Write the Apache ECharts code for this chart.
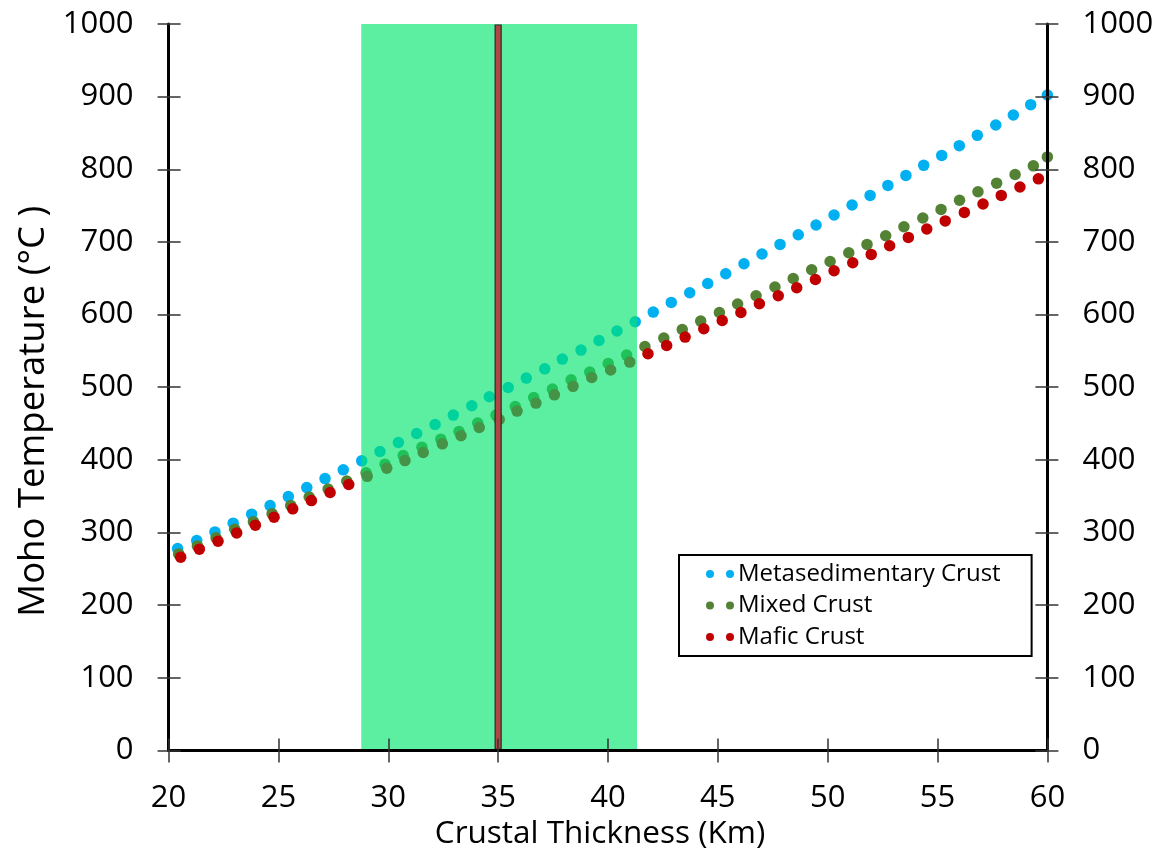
<!DOCTYPE html>
<html>
<head>
<meta charset="utf-8">
<script src="https://cdn.jsdelivr.net/npm/echarts@6/dist/echarts.min.js"></script>
<style>
  html, body { margin: 0; padding: 0; background: #ffffff; }
  #chart { width: 1166px; height: 859px; }
</style>
</head>
<body>
<div id="chart"></div>
<script>
// Moho temperature vs. crustal thickness for three crustal compositions

const xTicks = { min: 20, max: 60, step: 5 };
const yTicks = { min: 0, max: 1000, step: 100 };

const metaX = [20.41,21.28,22.11,22.94,23.78,24.62,25.45,26.29,27.12,27.95,28.79,29.62,30.46,31.29,32.13,32.96,33.80,34.60,35.46,36.28,37.12,37.92,38.77,39.59,40.41,41.24,42.06,42.88,43.72,44.54,45.36,46.19,47.01,47.83,48.66,49.47,50.29,51.11,51.93,52.74,53.56,54.37,55.19,55.99,56.81,57.65,58.45,59.24,60.00];
const metaT = [277.8,288.8,300.8,312.8,325.2,337.0,349.4,361.8,374.2,386.2,398.6,411.4,423.8,436.2,448.6,461.6,474.4,486.8,499.6,512.5,525.3,538.7,551.1,564.3,577.3,590.1,603.4,616.7,630.0,642.8,656.2,670.0,683.3,696.6,709.9,723.3,737.1,750.8,764.0,777.8,791.6,805.4,819.1,832.5,846.7,861.0,874.8,889.0,902.3];

const mixedX = [20.46,21.31,22.16,23.01,23.86,24.71,25.56,26.40,27.26,28.11,28.99,29.85,30.68,31.53,32.39,33.22,34.07,34.90,35.78,36.62,37.47,38.32,39.17,40.01,40.85,41.68,42.54,43.38,44.22,45.07,45.90,46.74,47.60,48.43,49.27,50.11,50.96,51.79,52.64,53.47,54.33,55.16,56.00,56.84,57.69,58.53,59.36,60.00];
const mixedT = [270.5,281.5,292.6,304.3,314.9,325.9,337.3,348.8,359.8,370.7,382.1,394.0,405.9,417.5,428.5,439.0,450.6,461.6,473.4,485.8,497.4,510.2,520.8,532.6,544.2,556.1,567.6,579.5,591.0,602.9,614.5,625.9,637.9,649.7,661.7,673.1,685.1,696.6,708.5,720.9,732.9,744.8,757.4,769.1,780.9,792.8,804.7,817.0];

const maficX = [20.55,21.40,22.25,23.10,23.95,24.80,25.65,26.50,27.35,28.20,29.04,29.93,30.76,31.59,32.46,33.31,34.14,35.05,35.86,36.72,37.56,38.41,39.26,40.12,40.99,41.82,42.67,43.51,44.36,45.20,46.05,46.89,47.75,48.59,49.44,50.29,51.14,51.98,52.82,53.67,54.51,55.35,56.22,57.07,57.90,58.75,59.59];
const maficT = [266.0,277.0,288.0,299.4,310.1,321.1,332.5,343.9,355.0,366.0,377.3,388.5,399.0,410.1,422.0,433.1,444.5,455.5,467.1,478.1,489.5,501.2,513.4,523.6,534.6,546.0,557.4,569.0,580.4,591.9,602.9,614.9,625.9,636.9,648.3,660.3,671.3,682.8,694.8,706.2,717.8,728.9,740.6,752.2,764.0,775.6,786.8];

const seriesNames = ['Metasedimentary Crust', 'Mixed Crust', 'Mafic Crust'];
const seriesColors = ['#00B0F0', '#548235', '#C00000'];

// Shaded thickness range and the reference thickness
const bandRange = [28.77, 41.32];
const refThickness = [35];

const FONT = 'Open Sans';

function pairs(xs, ys) {
  return xs.map((x, i) => [x, ys[i]]);
}

// plain integer tick labels (no thousands separator)
const plain = (v) => String(v);

// two dots side by side, like the marker pair in the legend
const twoDots = 'path://M0,4a4,4 0 1,0 8,0a4,4 0 1,0 -8,0z M20,4a4,4 0 1,0 8,0a4,4 0 1,0 -8,0z';

const axisBlack = { lineStyle: { color: '#000', width: 3 } };
const tickStyle = { color: '#333', width: 1.5 };

function xAxisBase(extra) {
  return Object.assign({
    type: 'value', min: xTicks.min, max: xTicks.max, interval: xTicks.step,
    splitLine: { show: false }, z: 10
  }, extra);
}
function yAxisBase(extra) {
  return Object.assign({
    type: 'value', min: yTicks.min, max: yTicks.max, interval: yTicks.step,
    splitLine: { show: false }, z: 10
  }, extra);
}

const chart = echarts.init(document.getElementById('chart'), null, { renderer: 'canvas' });

const option = {
  backgroundColor: '#ffffff',
  animation: false,
  textStyle: { fontFamily: FONT },
  grid: { left: 168.6, right: 118.6, top: 24, bottom: 108.6, containLabel: false },
  xAxis: [
    xAxisBase({
      position: 'bottom',
      name: 'Crustal Thickness (Km)', nameLocation: 'middle', nameGap: 68,
      nameTextStyle: { fontFamily: FONT, fontSize: 31.5, color: '#000', padding: [0, 16, 0, 0] },
      axisLine: { show: true, lineStyle: { color: '#000', width: 2.5 } },
      axisTick: { show: true, inside: false, length: 12, lineStyle: tickStyle },
      axisLabel: { fontFamily: FONT, fontSize: 31, color: '#000', margin: 32, formatter: plain }
    }),
    xAxisBase({
      position: 'bottom',
      axisLine: { show: false },
      axisTick: { show: true, inside: true, length: 12, lineStyle: tickStyle },
      axisLabel: { show: false }
    }),
    xAxisBase({
      position: 'top',
      axisLine: { show: true, lineStyle: { color: '#000', width: 3 } },
      axisTick: { show: false },
      axisLabel: { show: false }
    })
  ],
  yAxis: [
    yAxisBase({
      position: 'left',
      name: 'Moho Temperature (°C )', nameLocation: 'middle', nameGap: 116,
      nameTextStyle: { fontFamily: FONT, fontSize: 36.5, color: '#000', padding: [0, 48, 0, 0] },
      axisLine: Object.assign({ show: true }, axisBlack),
      axisTick: { show: true, inside: false, length: 11, lineStyle: tickStyle },
      axisLabel: { fontFamily: FONT, fontSize: 31, color: '#000', margin: 35, formatter: plain }
    }),
    yAxisBase({
      position: 'left',
      axisLine: { show: false },
      axisTick: { show: true, inside: true, length: 12, lineStyle: tickStyle },
      axisLabel: { show: false }
    }),
    yAxisBase({
      position: 'right',
      axisLine: Object.assign({ show: true }, axisBlack),
      axisTick: { show: true, inside: false, length: 11, lineStyle: tickStyle },
      axisLabel: { fontFamily: FONT, fontSize: 31, color: '#000', margin: 35, formatter: plain }
    }),
    yAxisBase({
      position: 'right',
      axisLine: { show: false },
      axisTick: { show: true, inside: true, length: 12, lineStyle: tickStyle },
      axisLabel: { show: false }
    })
  ],
  legend: {
    orient: 'vertical',
    left: 679, top: 555,
    padding: [7, 31, 7, 27],
    itemGap: 7.5,
    itemWidth: 28, itemHeight: 8,
    backgroundColor: '#ffffff',
    borderColor: '#000', borderWidth: 2,
    textStyle: { fontFamily: FONT, fontSize: 24, color: '#000', lineHeight: 24, padding: [0, 0, 0, -1] },
    data: seriesNames.map((n) => ({ name: n, icon: twoDots })),
    z: 20
  },
  series: [
    {
      name: seriesNames[0], type: 'scatter', xAxisIndex: 0, yAxisIndex: 0,
      symbol: 'circle', symbolSize: 11.5, z: 2,
      itemStyle: { color: seriesColors[0], opacity: 1 },
      data: pairs(metaX, metaT)
    },
    {
      name: seriesNames[1], type: 'scatter', xAxisIndex: 0, yAxisIndex: 0,
      symbol: 'circle', symbolSize: 11.5, z: 2,
      itemStyle: { color: seriesColors[1], opacity: 1 },
      data: pairs(mixedX, mixedT)
    },
    {
      name: seriesNames[2], type: 'scatter', xAxisIndex: 0, yAxisIndex: 0,
      symbol: 'circle', symbolSize: 11.5, z: 2,
      itemStyle: { color: seriesColors[2], opacity: 1 },
      data: pairs(maficX, maficT)
    },
    {
      // translucent band across the full temperature range
      type: 'custom', xAxisIndex: 0, yAxisIndex: 0, z: 3, silent: true,
      encode: { x: [0, 1] },
      data: [bandRange],
      renderItem: function (params, api) {
        const p0 = api.coord([api.value(0), yTicks.max]);
        const p1 = api.coord([api.value(1), yTicks.min]);
        return {
          type: 'rect',
          shape: { x: p0[0], y: p0[1], width: p1[0] - p0[0], height: p1[1] - p0[1] },
          style: { fill: 'rgba(0,230,110,0.64)' }
        };
      }
    },
    {
      // narrow bar marking the reference thickness
      type: 'custom', xAxisIndex: 0, yAxisIndex: 0, z: 4, silent: true,
      encode: { x: 0 },
      data: refThickness.map((v) => [v]),
      renderItem: function (params, api) {
        const top = api.coord([api.value(0), yTicks.max]);
        const bot = api.coord([api.value(0), yTicks.min]);
        const w = 6;
        return {
          type: 'rect',
          shape: { x: top[0] - w / 2, y: top[1] + 1, width: w, height: bot[1] - top[1] - 2 },
          style: { fill: '#B04545', stroke: '#2a2a2a', lineWidth: 1.2 }
        };
      }
    }
  ]
};

chart.setOption(option);
</script>
</body>
</html>
